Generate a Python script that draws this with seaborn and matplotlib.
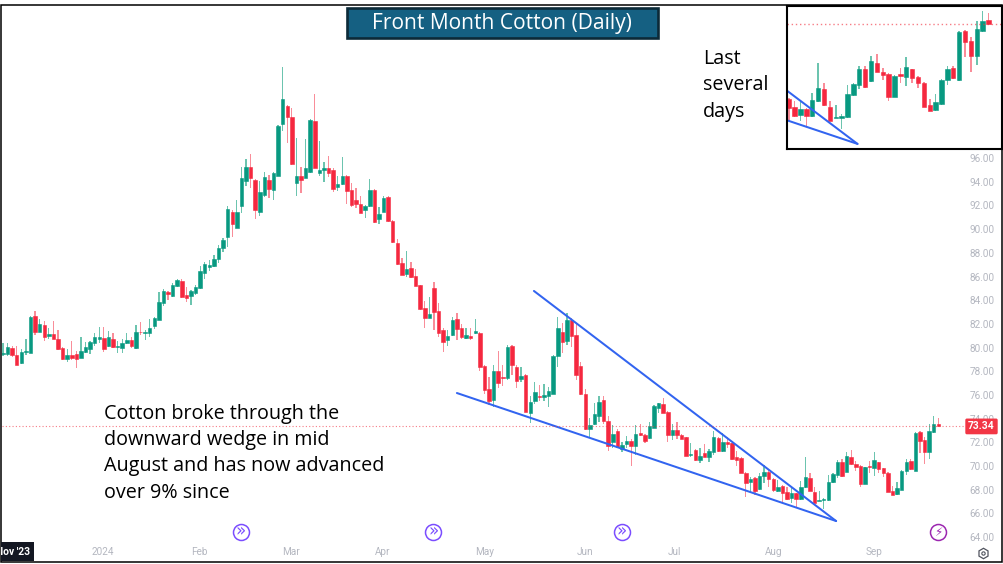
import numpy as np
import pandas as pd
import matplotlib
matplotlib.use('Agg')
import matplotlib.pyplot as plt
from matplotlib.patches import Rectangle
from matplotlib.transforms import Bbox
import seaborn as sns

# daily candles
opens = [
    79.45, 79.45, 79.96, 79.34, 78.66, 79.62, 79.51, 82.66, 81.34, 81.87, 80.97, 81.11, 80.72, 79.96, 79.06, 79.37, 79.45, 79.14, 79.65, 79.90,
    80.38, 80.69, 80.80, 80.15, 80.72, 80.04, 79.93, 80.35, 80.63, 79.93, 81.34, 81.20, 81.20, 81.82, 82.35, 83.80, 84.73, 84.36, 85.20, 85.65,
    84.42, 84.36, 84.58, 85.03, 86.33, 86.84, 86.89, 87.48, 88.41, 89.37, 91.48, 90.13, 91.96, 94.10, 95.25, 94.15, 91.42, 92.86, 94.15, 93.31,
    94.52, 98.88, 100.40, 99.45, 93.87, 94.49, 94.35, 94.80, 99.14, 94.77, 94.97, 95.14, 95.00, 93.56, 93.82, 94.49, 93.31, 92.44, 92.16, 91.62,
    91.96, 93.31, 90.89, 91.48, 92.69, 90.72, 88.86, 87.12, 86.22, 86.75, 86.05, 85.26, 83.32, 82.50, 85.06, 83.07, 81.49, 80.64, 81.04, 82.42,
    81.66, 80.81, 80.98, 81.21, 81.26, 78.48, 76.48, 75.61, 78.03, 77.55, 77.41, 80.14, 78.34, 77.32, 77.69, 74.51, 75.52, 75.89, 75.83, 75.94,
    76.11, 79.29, 81.32, 80.56, 82.33, 81.06, 78.42, 76.08, 73.10, 73.55, 74.25, 75.58, 73.83, 72.03, 72.98, 71.44, 71.89, 72.08, 71.66, 72.76,
    72.65, 72.37, 73.24, 74.93, 75.24, 74.59, 72.65, 73.04, 72.65, 72.42, 70.93, 71.38, 70.48, 71.07, 70.79, 71.16, 72.37, 71.27, 72.03, 71.92,
    70.73, 70.68, 69.44, 68.65, 68.99, 68.06, 69.16, 69.47, 68.93, 67.92, 68.31, 67.78, 67.27, 67.69, 67.18, 68.20, 68.98, 67.80, 67.07, 67.10,
    67.12, 68.62, 69.26, 70.36, 69.52, 70.73, 70.14, 69.99, 68.50, 69.97, 69.83, 70.31, 69.80, 69.43, 67.91, 67.60, 67.97, 69.57, 70.42, 69.60,
    72.84, 72.19, 71.21, 72.87, 73.57,
]
closes = [
    79.56, 80.01, 79.34, 78.55, 79.62, 79.70, 82.55, 81.34, 81.96, 80.91, 81.11, 80.69, 79.84, 79.00, 79.37, 79.14, 79.03, 79.68, 80.01, 80.46,
    80.91, 80.91, 79.84, 80.86, 80.04, 80.13, 80.35, 80.63, 80.13, 81.31, 81.28, 81.34, 81.62, 82.49, 83.87, 84.81, 84.53, 85.32, 85.71, 84.25,
    84.19, 84.75, 85.09, 86.44, 87.06, 87.01, 87.46, 88.41, 89.09, 91.71, 90.47, 91.45, 94.30, 95.25, 94.32, 91.62, 93.11, 94.41, 93.42, 94.75,
    98.74, 100.99, 99.50, 95.51, 94.49, 94.15, 95.20, 99.20, 95.20, 95.00, 95.14, 94.77, 93.37, 93.82, 94.49, 93.25, 92.07, 92.13, 91.40, 91.96,
    93.31, 90.61, 91.31, 92.66, 90.69, 88.92, 87.06, 86.16, 86.61, 85.94, 85.23, 83.26, 82.50, 82.87, 83.01, 81.21, 80.50, 80.98, 82.36, 81.60,
    80.93, 81.04, 80.81, 81.43, 78.39, 76.45, 75.52, 78.03, 76.99, 77.41, 80.02, 78.53, 77.21, 77.58, 74.59, 75.38, 76.22, 75.83, 75.97, 76.34,
    79.32, 81.63, 80.45, 82.33, 80.98, 77.69, 76.05, 73.10, 73.44, 74.39, 75.38, 73.80, 71.72, 72.68, 71.63, 71.78, 72.08, 71.69, 72.73, 72.59,
    72.08, 73.38, 75.07, 75.29, 74.51, 72.65, 73.04, 72.65, 72.31, 70.87, 71.01, 70.51, 70.85, 70.79, 71.30, 72.42, 71.27, 72.03, 71.89, 70.62,
    70.54, 69.44, 68.57, 68.87, 67.92, 69.18, 69.52, 68.87, 67.97, 68.23, 67.75, 67.21, 67.69, 67.18, 68.25, 69.04, 67.91, 66.90, 67.12, 67.21,
    68.67, 69.32, 70.36, 69.15, 70.87, 70.16, 69.94, 68.48, 69.88, 69.88, 70.47, 69.74, 69.38, 67.83, 67.57, 68.14, 69.60, 70.33, 69.71, 72.78,
    72.11, 71.21, 72.98, 73.52, 73.34,
]
highs = [
    80.35, 80.41, 80.13, 80.13, 79.84, 80.72, 82.69, 83.05, 82.43, 82.27, 81.65, 82.21, 81.45, 80.01, 79.84, 80.55, 79.73, 80.86, 80.46, 80.58,
    81.25, 81.73, 81.73, 81.36, 81.20, 80.58, 80.72, 81.20, 80.86, 81.90, 82.15, 81.48, 82.38, 82.55, 84.69, 84.92, 84.81, 85.43, 85.80, 85.77,
    85.09, 84.87, 85.26, 86.89, 87.26, 87.40, 87.79, 88.64, 89.26, 91.96, 91.62, 92.47, 95.23, 95.93, 96.35, 94.21, 94.07, 94.83, 94.60, 94.83,
    98.80, 103.73, 100.49, 100.21, 97.67, 95.25, 97.65, 99.28, 101.42, 97.45, 95.70, 96.18, 95.14, 94.49, 96.07, 94.55, 93.93, 93.45, 92.83, 92.07,
    94.21, 93.37, 91.90, 92.80, 92.80, 90.78, 89.20, 87.54, 88.16, 87.20, 86.61, 85.32, 83.91, 84.25, 85.54, 83.74, 81.63, 81.49, 82.56, 82.92,
    82.00, 81.63, 81.63, 82.42, 81.32, 78.53, 77.55, 78.56, 79.74, 78.53, 80.19, 80.19, 78.53, 78.39, 77.77, 75.92, 77.13, 76.84, 76.93, 76.65,
    79.37, 82.56, 82.11, 82.90, 82.47, 82.05, 78.81, 76.48, 74.03, 75.29, 75.88, 75.94, 74.22, 73.46, 73.10, 72.06, 72.56, 72.25, 73.44, 73.55,
    72.70, 73.75, 75.12, 75.35, 75.72, 74.65, 73.55, 73.69, 72.70, 72.48, 71.92, 71.41, 71.49, 71.86, 71.44, 72.99, 72.48, 72.82, 72.48, 71.97,
    71.30, 70.73, 69.49, 69.10, 69.04, 69.38, 70.09, 69.72, 68.99, 68.82, 68.37, 68.20, 68.17, 67.75, 68.73, 70.73, 69.38, 68.19, 67.91, 67.32,
    69.24, 69.43, 70.50, 70.56, 71.21, 71.35, 70.42, 70.05, 69.94, 70.39, 71.15, 70.36, 69.85, 69.49, 68.31, 68.67, 69.66, 70.56, 70.56, 72.84,
    72.92, 72.47, 73.51, 74.22, 74.08,
]
lows = [
    79.28, 79.28, 79.23, 78.55, 78.61, 79.37, 79.51, 81.06, 81.34, 80.55, 80.72, 80.69, 79.79, 78.94, 78.80, 78.94, 78.30, 79.08, 79.56, 79.45,
    80.15, 80.35, 79.62, 80.07, 79.99, 79.51, 79.56, 80.30, 79.93, 79.87, 81.03, 80.60, 80.91, 81.56, 82.32, 83.54, 84.02, 84.25, 85.09, 84.16,
    83.88, 83.60, 84.42, 84.98, 85.82, 86.50, 86.84, 87.12, 88.10, 88.53, 89.37, 90.07, 91.40, 93.65, 93.51, 90.83, 91.14, 92.69, 92.61, 92.44,
    94.52, 98.32, 97.25, 95.42, 92.80, 93.09, 94.30, 94.77, 95.14, 94.52, 94.01, 94.44, 93.17, 93.23, 93.76, 92.13, 91.85, 91.82, 91.34, 90.97,
    91.90, 90.55, 90.44, 91.45, 90.64, 88.86, 87.01, 86.10, 85.94, 85.88, 85.20, 83.18, 81.66, 82.47, 81.49, 80.87, 79.66, 80.17, 80.98, 80.64,
    80.76, 80.73, 80.64, 81.12, 78.05, 76.06, 75.16, 74.96, 76.56, 76.76, 77.27, 77.69, 76.62, 77.13, 74.56, 73.66, 75.21, 75.52, 75.49, 74.96,
    76.06, 78.34, 79.52, 80.22, 80.02, 77.26, 76.00, 73.04, 72.34, 73.46, 73.74, 73.55, 71.27, 71.49, 71.49, 71.18, 71.55, 70.00, 70.93, 72.53,
    71.97, 72.31, 73.18, 74.45, 74.45, 72.06, 72.20, 72.25, 72.25, 70.85, 70.73, 70.45, 70.23, 70.73, 70.34, 70.93, 71.21, 71.21, 71.49, 70.51,
    70.00, 69.38, 67.41, 67.78, 67.55, 68.00, 68.60, 68.26, 67.83, 67.83, 66.85, 67.13, 66.85, 66.57, 67.13, 68.14, 67.86, 66.84, 67.04, 66.34,
    67.07, 68.56, 68.98, 69.04, 69.46, 70.11, 69.60, 68.22, 68.45, 69.43, 69.18, 69.38, 69.04, 67.77, 67.52, 67.57, 67.94, 69.26, 69.69, 69.54,
    71.12, 70.16, 70.61, 72.81, 73.26,
]

price_ticks = [64, 66, 68, 70, 72, 74, 76, 78, 80, 82, 84, 86, 88, 90, 92, 94, 96]
month_labels = ['2024', 'Feb', 'Mar', 'Apr', 'May', 'Jun', 'Jul', 'Aug', 'Sep']
month_pos = [21.8, 42.8, 62.8, 82.9, 105, 127, 146.4, 168, 190]

# wedge: bar index and price at each end
upper_x = [115.8, 181.7]
upper_y = [84.78, 65.35]
lower_x = [99.0, 181.7]
lower_y = [76.16, 65.35]

event_pos = [51.9, 93.8, 135]
lightning_pos = [204]
icon_price = 64.42

UP = '#089981'
DOWN = '#f5283f'
UP_WICK = '#6cc4af'
DOWN_WICK = '#f98d99'
LINE = '#3264f0'
GREY = '#b4b7c0'
W = 1004
H = 564


def fig_rect(x0, y0, x1, y1):
    # pixel box (y from the top) to figure fractions
    return [x0 / W, 1 - y1 / H, (x1 - x0) / W, (y1 - y0) / H]


def draw_candles(ax, df, dot_lw):
    df = df.copy()
    df['body'] = (df['close'] - df['open']).abs()
    df['base'] = df[['open', 'close']].min(axis=1)
    df['range'] = df['high'] - df['low']
    for is_up, part in df.groupby(df['close'] >= df['open']):
        wick = UP_WICK if is_up else DOWN_WICK
        body = UP if is_up else DOWN
        sns.barplot(data=part, x='idx', y='range', bottom=part['low'].values, native_scale=True,
                    width=0.27, color=wick, saturation=1, errorbar=None, linewidth=0, ax=ax)
        sns.barplot(data=part, x='idx', y='body', bottom=part['base'].values, native_scale=True,
                    width=0.76, color=body, saturation=1, errorbar=None, linewidth=0.4,
                    edgecolor=body, ax=ax)
    sns.lineplot(x=upper_x, y=upper_y, color=LINE, linewidth=1.45, estimator=None, sort=False, ax=ax)
    sns.lineplot(x=lower_x, y=lower_y, color=LINE, linewidth=1.45, estimator=None, sort=False, ax=ax)
    ax.axhline(closes[-1], color='#f23645', lw=dot_lw, ls=(0, (1, 2)), alpha=0.65)
    ax.set_xlabel('')
    ax.set_ylabel('')


sns.set_theme(style='white')
plt.rcParams['font.family'] = ['Open Sans', 'DejaVu Sans']

candles = pd.DataFrame({'idx': np.arange(len(opens)), 'open': opens, 'close': closes,
                        'high': highs, 'low': lows})

fig = plt.figure(figsize=(W / 100, H / 100), dpi=100, facecolor='white')

# main pane
ax = fig.add_axes(fig_rect(2, 6, 964, 544))
draw_candles(ax, candles, 0.8)
ax.set_xlim((2 - 3) / 4.585, (964 - 3) / 4.585)
ax.set_ylim(64 + (537 - 544) / 11.84, 64 + (537 - 6) / 11.84)
sns.despine(ax=ax, left=True, bottom=True, right=True, top=True)
ax.yaxis.tick_right()
ax.set_yticks(price_ticks)
ax.set_yticklabels([f'{p:.2f}' for p in price_ticks], fontfamily='Roboto')
ax.set_xticks(month_pos)
ax.set_xticklabels(month_labels, fontfamily='Roboto')
ax.tick_params(axis='y', length=0, pad=3.8, labelsize=7.2, labelcolor=GREY)
ax.tick_params(axis='x', length=0, pad=2.5, labelsize=7.2, labelcolor=GREY)

# event icons along the bottom
ax.plot(event_pos, [icon_price] * len(event_pos), ls='', marker='o', ms=11.5, mfc='white',
        mec='#7b4dff', mew=1.1, zorder=5)
for p in event_pos:
    ax.text(p, icon_price + 0.03, '\u00bb', color='#7b4dff', fontsize=12, ha='center', va='center',
            fontfamily='DejaVu Sans', zorder=6)
ax.plot(lightning_pos, [icon_price], ls='', marker='o', ms=11.5, mfc='white', mec='#9c27b0',
        mew=1.1, zorder=5)
ax.text(lightning_pos[0], icon_price, '\u26a1', color='#9c27b0', fontsize=8.5, ha='center',
        va='center', fontfamily='DejaVu Sans', zorder=6)

# last price tag
ax.annotate(f'{closes[-1]:.2f}', xy=(1, closes[-1]), xycoords=ax.get_yaxis_transform(),
            xytext=(12.6, 0), textcoords='offset points', ha='center', va='center', color='white',
            fontsize=7.4, fontweight='bold', fontfamily='Roboto', annotation_clip=False, zorder=8,
            bbox=dict(boxstyle='round,pad=0.28,rounding_size=0.15', fc='#f23645', ec='none'))

# clipped first date on the time axis
fig.add_artist(Rectangle((1 / W, 1 - 561 / H), 33 / W, 19 / H, transform=fig.transFigure,
                         fc='#131722', ec='none', zorder=6))
nov = fig.text(-4 / W, 1 - 552 / H, "Nov '23", color='white', fontsize=7.4, fontweight='bold',
               fontfamily='Roboto', va='center', zorder=7)
nov.set_clip_box(Bbox([[1, H - 561], [34, H - 542]]))
nov.set_clip_on(True)

# settings glyph
fig.add_artist(plt.Line2D([983 / W], [1 - 553 / H], marker='h', ms=7.5, mfc='white', mec='#50535e',
                          mew=0.9, ls='', transform=fig.transFigure, zorder=6))
fig.add_artist(plt.Line2D([983 / W], [1 - 553 / H], marker='o', ms=2.4, mfc='white', mec='#50535e',
                          mew=0.8, ls='', transform=fig.transFigure, zorder=6))

# inset with the most recent bars
inset = fig.add_axes(fig_rect(787, 6, 1002, 149), zorder=5, facecolor='white')
draw_candles(inset, candles[candles['idx'] >= 169], 1.0)
inset.set_xlim(169.7, 206.3)
inset.set_ylim(65.01, 74.52)
inset.set_xticks([])
inset.set_yticks([])
inset.tick_params(length=0)
for side in inset.spines.values():
    side.set_visible(True)
    side.set_color('black')
    side.set_linewidth(1.5)

# outer frame and title
fig.add_artist(Rectangle((1 / W, 1 - 562 / H), 1001 / W, 557 / H, transform=fig.transFigure,
                         fc='none', ec='black', lw=1.1, zorder=4))
fig.add_artist(Rectangle((346.5 / W, 1 - 37.5 / H), 312 / W, 29 / H, transform=fig.transFigure,
                         fc='#156082', ec='#0c2a38', lw=1.9, zorder=6))
fig.text(502 / W, 1 - 24 / H, 'Front Month Cotton (Daily)', color='white', fontsize=15.1,
         ha='center', va='center', zorder=7)

note_lines = ['Cotton broke through the', 'downward wedge in mid',
              'August and has now advanced', 'over 9% since']
for line, y in zip(note_lines, [413.5, 439.5, 466.5, 492.5]):
    fig.text(104 / W, 1 - y / H, line, color='black', fontsize=14.2, va='center', zorder=7)
for line, y in zip(['Last', 'several', 'days'], [59, 85, 112]):
    fig.text(703 / W, 1 - y / H, line, color='black', fontsize=14.2, va='center', zorder=7)

fig.savefig('out.png', dpi=100)
